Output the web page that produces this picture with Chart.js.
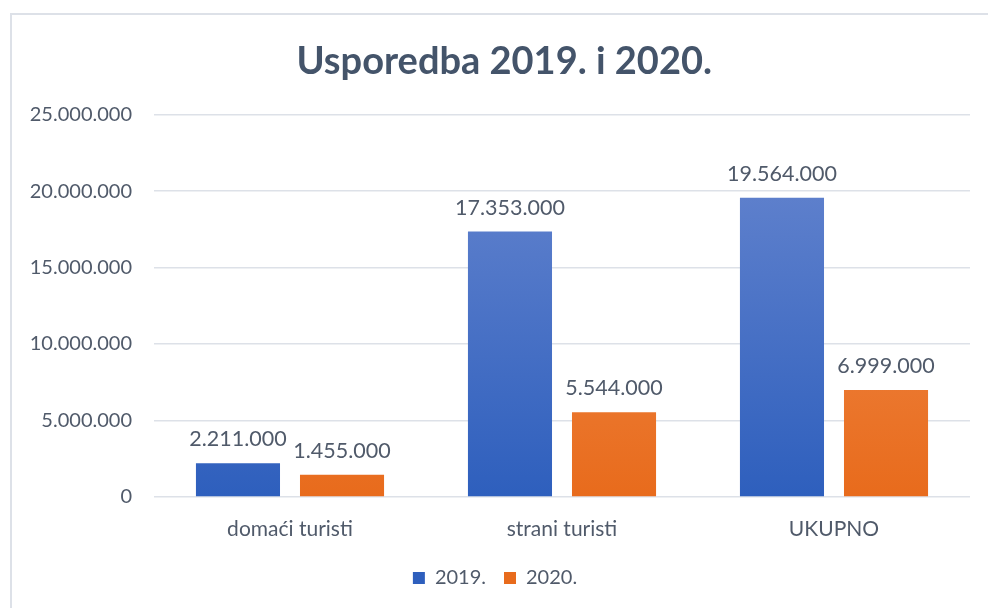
<!DOCTYPE html>
<html lang="hr">
<head>
<meta charset="UTF-8" />
<title>Usporedba 2019. i 2020.</title>
<script src="https://cdn.jsdelivr.net/npm/chart.js"></script>
<style>
    body { margin: 0; background: #fff; }
    .okvir {
        position: absolute; left: 10px; top: 13px;
        width: 1000px; height: 620px;
        border: 2px solid #dde1e8; box-sizing: border-box;
    }
    .graf { position: absolute; left: 0; top: 0; width: 988px; height: 608px; }
</style>
</head>
<body>
<div class="okvir"></div>
<div class="graf"><canvas id="myChart"></canvas></div>

<script>
    // podaci
    const kategorije = ['domaći turisti', 'strani turisti', 'UKUPNO'];
    const godina2019 = [2211000, 17353000, 19564000];
    const godina2020 = [1455000, 5544000, 6999000];
    const oznakeSerija = ['2019.', '2020.'];

    const bojaTeksta = '#505a6a';

    function formatBroj(v) {
        return v.toString().replace(/\B(?=(\d{3})+(?!\d))/g, '.');
    }

    function gradijent(ctx, gore, dolje) {
        const chart = ctx.chart;
        const area = chart.chartArea;
        if (!area) return dolje;
        const g = chart.ctx.createLinearGradient(0, area.top, 0, area.bottom);
        g.addColorStop(0, gore);
        g.addColorStop(1, dolje);
        return g;
    }

    // plugin za brojeve iznad stupaca
    const oznakeStupaca = {
        id: 'oznakeStupaca',
        afterDatasetsDraw(chart) {
            const c = chart.ctx;
            c.save();
            c.font = '21.5px Lato';
            c.fillStyle = bojaTeksta;
            c.textAlign = 'center';
            c.textBaseline = 'alphabetic';
            chart.data.datasets.forEach(function (ds, i) {
                chart.getDatasetMeta(i).data.forEach(function (bar, j) {
                    c.fillText(formatBroj(ds.data[j]), bar.x, bar.y - 17);
                });
            });
            c.restore();
        }
    };

    const dados = {
        labels: kategorije,
        datasets: [{
            label: oznakeSerija[0],
            data: godina2019,
            backgroundColor: (ctx) => gradijent(ctx, '#6a88d0', '#2e5fbd'),
            borderWidth: 0,
            categoryPercentage: 0.765,
            barPercentage: 0.808
        }, {
            label: oznakeSerija[1],
            data: godina2020,
            backgroundColor: (ctx) => gradijent(ctx, '#f2945a', '#e86b1c'),
            borderWidth: 0,
            categoryPercentage: 0.765,
            barPercentage: 0.808
        }]
    };

    const config = {
        type: 'bar',
        data: dados,
        plugins: [oznakeStupaca],
        options: {
            responsive: false,
            animation: false,
            layout: { padding: { left: 20, right: 18, top: 39, bottom: 10 } },
            plugins: {
                title: {
                    display: true,
                    // dva razmaka da naslov malo ode udesno, kao u originalu
                    text: '  Usporedba 2019. i 2020.',
                    color: '#44546a',
                    font: { family: 'Lato', size: 38, weight: 'bold' },
                    padding: { top: 0, bottom: 30 }
                },
                legend: {
                    position: 'bottom',
                    labels: {
                        color: bojaTeksta,
                        font: { family: 'Lato', size: 20 },
                        boxWidth: 12, boxHeight: 12,
                        padding: 18
                    }
                },
                tooltip: { enabled: false }
            },
            scales: {
                x: {
                    grid: { display: false },
                    border: { display: false },
                    afterFit: function (scale) { scale.height = 53; },
                    ticks: { color: bojaTeksta, font: { family: 'Lato', size: 21 }, padding: 12 }
                },
                y: {
                    min: 0, max: 25000000,
                    grid: { color: '#dde1e8', lineWidth: 1.5, drawTicks: false },
                    border: { display: false },
                    afterFit: function (scale) { scale.width = 134; },
                    ticks: {
                        stepSize: 5000000,
                        color: bojaTeksta,
                        font: { family: 'Lato', size: 20 },
                        padding: 22,
                        callback: (v) => formatBroj(v)
                    }
                }
            }
        }
    };

    const canvas = document.getElementById('myChart');
    canvas.width = 988;
    canvas.height = 608;
    let myChart = new Chart(canvas, config);
</script>
</body>
</html>
